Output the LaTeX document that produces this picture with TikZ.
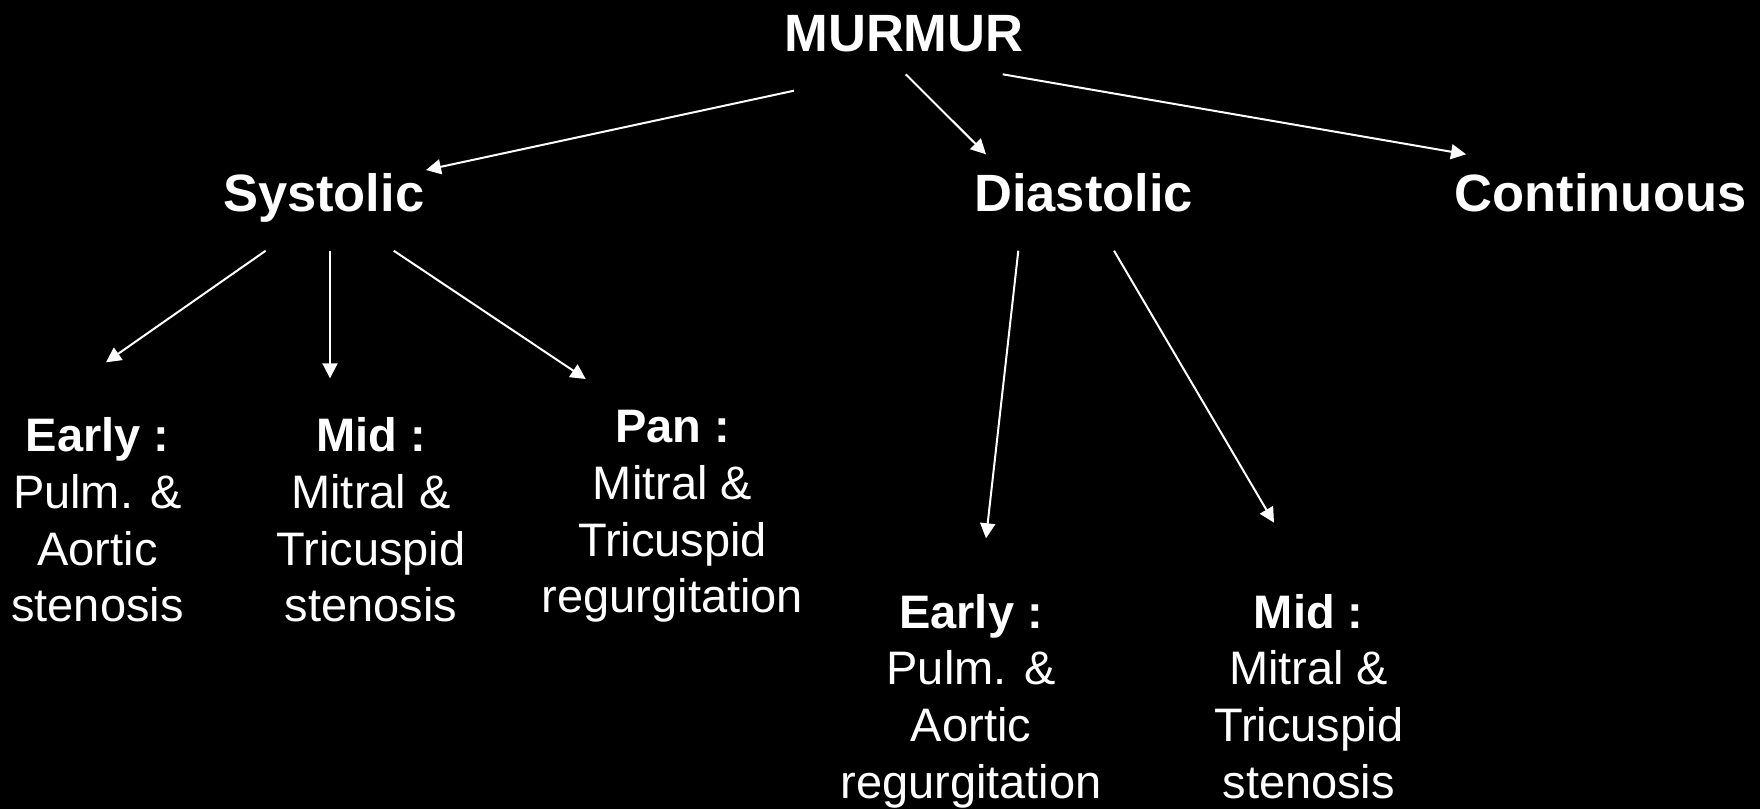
\documentclass[tikz,border=0pt]{standalone}
\usepackage{fontspec}
\setmainfont{Liberation Sans}
\usetikzlibrary{arrows.meta}
\begin{document}
\begin{tikzpicture}[x=1pt,y=-1pt,
  head/.style={text=white,font=\fontsize{52.5}{63}\selectfont\bfseries,anchor=base,inner sep=0pt},
  body/.style={text=white,font=\fontsize{47}{56.7}\selectfont,align=center,anchor=base,inner sep=0pt},
  conn/.style={draw=white,line width=2pt,-{Triangle[width=15pt,length=15pt]}}]
\fill[black] (0,0) rectangle (1760,809);
% headings
\node[head] (murmur) at (904,51.7) {MURMUR};
\node[head] (sys) at (323.7,211) {Systolic};
\node[head] (dia) at (1083.7,211) {Diastolic};
\node[head] (cont) at (1600.5,211) {Continuous};
% leaves (base anchor = baseline of last line)
\node[body] (searly) at (97.5,621.7) {\textbf{Early :}\\Pulm. \&\\Aortic\\stenosis};
\node[body] (smid) at (371,621.7) {\textbf{Mid :}\\Mitral \&\\Tricuspid\\stenosis};
\node[body] (span) at (672.5,612.7) {\textbf{Pan :}\\Mitral \&\\Tricuspid\\regurgitation};
\node[body] (dearly) at (971,798.3) {\textbf{Early :}\\Pulm. \&\\Aortic\\regurgitation};
\node[body] (dmid) at (1308.7,798.3) {\textbf{Mid :}\\Mitral \&\\Tricuspid\\stenosis};
% connector ends
\coordinate (m-s) at (794,90.7);   \coordinate (s-in) at (426,170);
\coordinate (m-d) at (905.7,74.3); \coordinate (d-in) at (986,154.3);
\coordinate (m-c) at (1002.7,74.3);\coordinate (c-in) at (1466,154.3);
\coordinate (s-e) at (265.7,250.7);\coordinate (se-in) at (106,362.3);
\coordinate (s-m) at (330,250.7);  \coordinate (sm-in) at (330,378.3);
\coordinate (s-p) at (393.7,250.7);\coordinate (sp-in) at (585.7,379);
\coordinate (d-e) at (1018.3,250.7);\coordinate (de-in) at (986,538.3);
\coordinate (d-m) at (1114,250.7); \coordinate (dm-in) at (1274,522.7);
% connectors
\draw[conn] (m-s) -- (s-in);
\draw[conn] (m-d) -- (d-in);
\draw[conn] (m-c) -- (c-in);
\draw[conn] (s-e) -- (se-in);
\draw[conn] (s-m) -- (sm-in);
\draw[conn] (s-p) -- (sp-in);
\draw[conn] (d-e) -- (de-in);
\draw[conn] (d-m) -- (dm-in);
\end{tikzpicture}
\end{document}
